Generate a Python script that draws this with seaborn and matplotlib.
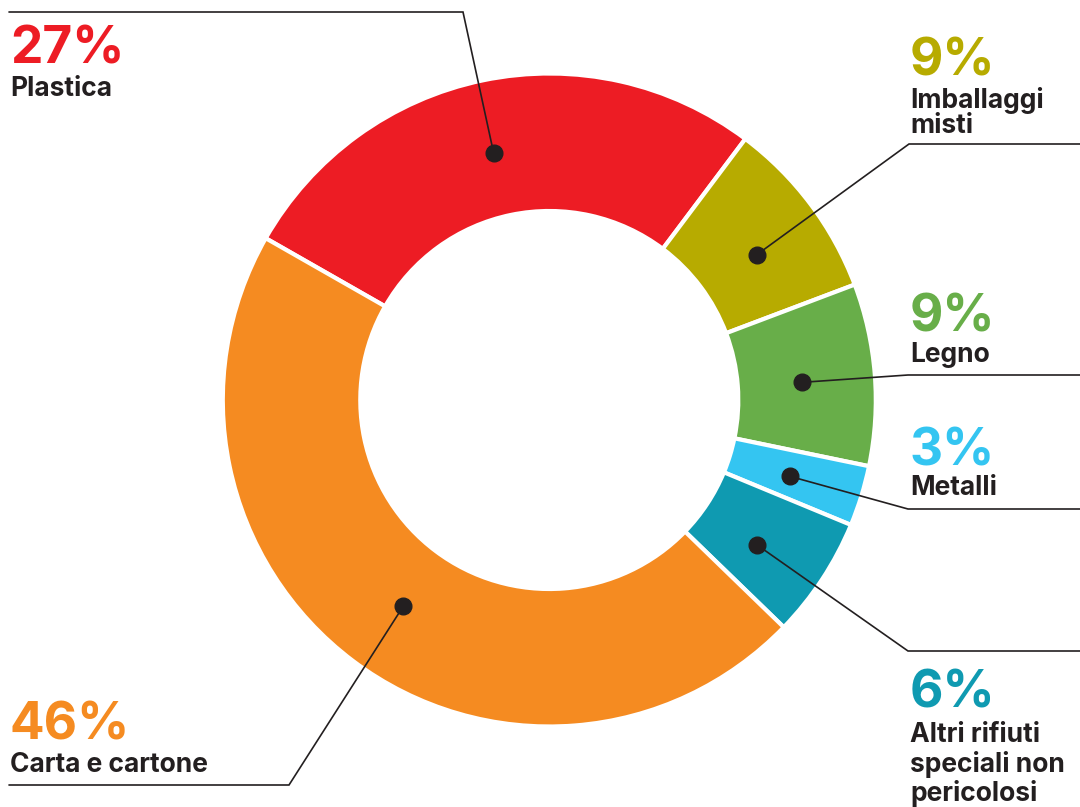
# donut chart: composizione rifiuti (percentuali)
import numpy as np
import pandas as pd
import matplotlib
matplotlib.use("Agg")
import matplotlib.pyplot as plt
import seaborn as sns

# dati
categorie = ["Plastica", "Imballaggi misti", "Legno", "Metalli",
             "Altri rifiuti speciali non pericolosi", "Carta e cartone"]
percentuali = [27, 9, 9, 3, 6, 46]
etichette = [["Plastica"], ["Imballaggi", "misti"], ["Legno"], ["Metalli"],
             ["Altri rifiuti", "speciali non", "pericolosi"], ["Carta e cartone"]]
colori = ["#ED1C24", "#B7AB00", "#68AE49", "#34C5F1", "#0F9AB1", "#F58B21"]

sns.set_theme(style="white")
plt.rcParams["font.family"] = ["Inter", "DejaVu Sans"]

W, H = 1080, 807
fig = plt.figure(figsize=(W / 100, H / 100), dpi=100)
ax = fig.add_axes([0, 0, 1, 1])

def py(y):
    # da coordinate pixel (dall'alto) a coordinate dati (dal basso)
    return H - y

cx, cy = 549.3, py(400)
R_out, R_in = 326.5, 189

df = pd.DataFrame({"categoria": categorie, "valore": percentuali})
wedges, _ = ax.pie(df["valore"], colors=sns.color_palette(colori),
                   startangle=150.3, counterclock=False,
                   radius=R_out, center=(cx, cy),
                   wedgeprops=dict(width=R_out - R_in, edgecolor="white", linewidth=3))

ax.set_xlim(0, W)
ax.set_ylim(0, H)
ax.set_aspect("equal")
ax.axis("off")

# layout etichette: (x testo, baseline %, baseline righe, gomito linea, fine linea,
# piccolo scarto angolare del pallino rispetto al centro dello spicchio)
layout = [
    dict(x=10, yp=64, yl=[96], bend=(463, 12), end=(9, 12), dth=1.0),
    dict(x=910, yp=75, yl=[108, 133], bend=(909, 144), end=(1080, 144), dth=-1.9),
    dict(x=910, yp=332, yl=[362], bend=(908, 375), end=(1080, 375), dth=-0.5),
    dict(x=910, yp=465, yl=[495], bend=(908, 509), end=(1080, 509), dth=-0.5),
    dict(x=910, yp=708, yl=[742, 772, 801], bend=(908, 651), end=(1080, 651), dth=-1.6),
    dict(x=10, yp=740, yl=[772], bend=(289, 785), end=(9, 785), dth=1.6),
]

ink = "#231F20"
r_dot = 253
for w, val, lab, col, lay in zip(wedges, percentuali, etichette, colori, layout):
    th = np.deg2rad((w.theta1 + w.theta2) / 2 + lay["dth"])
    dx = cx + r_dot * np.cos(th)
    dy = cy + r_dot * np.sin(th)
    bx, by = lay["bend"]
    ex, ey = lay["end"]
    ax.plot([dx, bx, ex], [dy, py(by), py(ey)], color=ink, lw=1.2,
            solid_joinstyle="miter", zorder=3)
    ax.plot(dx, dy, "o", color=ink, markersize=12, zorder=4)
    ax.text(lay["x"], py(lay["yp"]), f"{val}%", color=col, fontsize=37,
            fontweight="bold", ha="left", va="baseline")
    for riga, yl in zip(lab, lay["yl"]):
        ax.text(lay["x"], py(yl), riga, color=ink, fontsize=19,
                fontweight="bold", ha="left", va="baseline")

fig.savefig("out.png", dpi=100, facecolor="white")
